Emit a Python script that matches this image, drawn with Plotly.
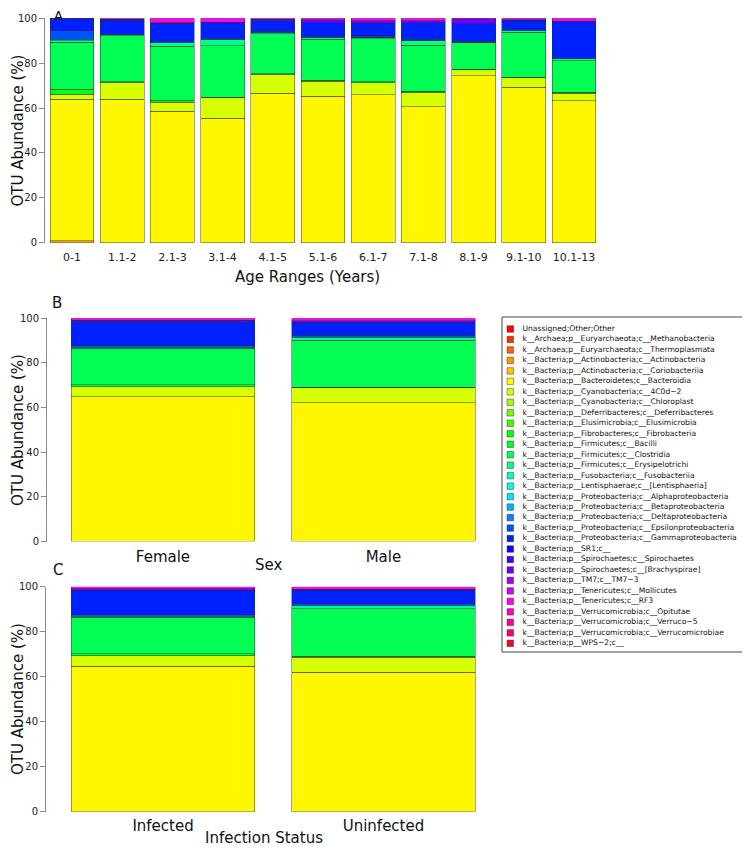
import colorsys
import plotly.graph_objects as go

W, H = 750, 866
OFF = 8  # the page body margin shifts the figure by this many pixels

# ---------------- data ----------------
TAXA = [
    "Unassigned;Other;Other",
    "k__Archaea;p__Euryarchaeota;c__Methanobacteria",
    "k__Archaea;p__Euryarchaeota;c__Thermoplasmata",
    "k__Bacteria;p__Actinobacteria;c__Actinobacteria",
    "k__Bacteria;p__Actinobacteria;c__Coriobacteriia",
    "k__Bacteria;p__Bacteroidetes;c__Bacteroidia",
    "k__Bacteria;p__Cyanobacteria;c__4C0d\u22122",
    "k__Bacteria;p__Cyanobacteria;c__Chloroplast",
    "k__Bacteria;p__Deferribacteres;c__Deferribacteres",
    "k__Bacteria;p__Elusimicrobia;c__Elusimicrobia",
    "k__Bacteria;p__Fibrobacteres;c__Fibrobacteria",
    "k__Bacteria;p__Firmicutes;c__Bacilli",
    "k__Bacteria;p__Firmicutes;c__Clostridia",
    "k__Bacteria;p__Firmicutes;c__Erysipelotrichi",
    "k__Bacteria;p__Fusobacteria;c__Fusobacteriia",
    "k__Bacteria;p__Lentisphaerae;c__[Lentisphaeria]",
    "k__Bacteria;p__Proteobacteria;c__Alphaproteobacteria",
    "k__Bacteria;p__Proteobacteria;c__Betaproteobacteria",
    "k__Bacteria;p__Proteobacteria;c__Deltaproteobacteria",
    "k__Bacteria;p__Proteobacteria;c__Epsilonproteobacteria",
    "k__Bacteria;p__Proteobacteria;c__Gammaproteobacteria",
    "k__Bacteria;p__SR1;c__",
    "k__Bacteria;p__Spirochaetes;c__Spirochaetes",
    "k__Bacteria;p__Spirochaetes;c__[Brachyspirae]",
    "k__Bacteria;p__TM7;c__TM7\u22123",
    "k__Bacteria;p__Tenericutes;c__Mollicutes",
    "k__Bacteria;p__Tenericutes;c__RF3",
    "k__Bacteria;p__Verrucomicrobia;c__Opitutae",
    "k__Bacteria;p__Verrucomicrobia;c__Verruco\u22125",
    "k__Bacteria;p__Verrucomicrobia;c__Verrucomicrobiae",
    "k__Bacteria;p__WPS\u22122;c__",
]

AGE_RANGES = ["0-1", "1.1-2", "2.1-3", "3.1-4", "4.1-5", "5.1-6",
              "6.1-7", "7.1-8", "8.1-9", "9.1-10", "10.1-13"]
SEX = ["Female", "Male"]
INFECTION = ["Infected", "Uninfected"]
Y_TICKS = [0, 20, 40, 60, 80, 100]

# Panel A: OTU abundance (%) per age range
age_actinobacteria = [0.8, 0, 0, 0, 0, 0, 0, 0, 0, 0, 0]
age_bacteroidia = [63.1, 63.9, 58.5, 55.4, 66.6, 65.2, 66.0, 60.6, 74.3, 69.2, 63.2]
age_4c0d2 = [2.2, 7.5, 4.0, 9.1, 8.4, 6.7, 5.3, 6.5, 2.7, 4.2, 3.3]
age_bacilli = [2.2, 0.3, 0.9, 0.3, 0.3, 0.4, 0.4, 0.5, 0.3, 0.3, 0.5]
age_clostridia = [21.0, 20.6, 24.2, 22.9, 17.8, 18.3, 19.1, 20.5, 11.7, 20.1, 14.0]
age_erysipelotrichi = [0.6, 0.3, 1.6, 2.8, 0.5, 0.8, 0.8, 2.2, 0.4, 0.6, 0.9]
age_alphaproteo = [0.7, 0, 0, 0, 0, 0, 0, 0, 0, 0, 0]
age_epsilonproteo = [3.9, 0.4, 0.4, 0.6, 0.6, 0.5, 0.5, 0.4, 0.3, 0.4, 0.3]
age_gammaproteo = [5.2, 6.2, 8.2, 7.0, 4.8, 6.2, 5.7, 7.3, 7.9, 4.4, 16.3]
age_brachyspirae = [0.3, 0.3, 0.3, 0.2, 0.6, 1.2, 1.1, 0.8, 2.1, 0.1, 0.1]
age_rf3 = [0, 0.5, 1.9, 1.7, 0.4, 0.7, 1.1, 1.2, 0.3, 0.7, 1.4]

# Panel B: by sex
sex_bacteroidia = [64.9, 62.2]
sex_4c0d2 = [4.4, 6.6]
sex_bacilli = [0.9, 0.4]
sex_clostridia = [16.3, 21.0]
sex_erysipelotrichi = [0.5, 1.4]
sex_epsilonproteo = [0.7, 0.8]
sex_gammaproteo = [10.8, 5.9]
sex_brachyspirae = [0.7, 0.5]
sex_rf3 = [0.8, 1.2]

# Panel C: by infection status
inf_bacteroidia = [64.6, 62.0]
inf_4c0d2 = [4.8, 6.7]
inf_bacilli = [0.9, 0.5]
inf_clostridia = [16.2, 21.0]
inf_erysipelotrichi = [0.4, 1.4]
inf_epsilonproteo = [0.6, 0.8]
inf_gammaproteo = [11.0, 6.0]
inf_brachyspirae = [0.6, 0.4]
inf_rf3 = [0.9, 1.2]

AGE_SERIES = [(3, age_actinobacteria), (5, age_bacteroidia), (6, age_4c0d2),
              (11, age_bacilli), (12, age_clostridia), (13, age_erysipelotrichi),
              (16, age_alphaproteo), (19, age_epsilonproteo), (20, age_gammaproteo),
              (23, age_brachyspirae), (26, age_rf3)]
SEX_SERIES = [(5, sex_bacteroidia), (6, sex_4c0d2), (11, sex_bacilli),
              (12, sex_clostridia), (13, sex_erysipelotrichi), (19, sex_epsilonproteo),
              (20, sex_gammaproteo), (23, sex_brachyspirae), (26, sex_rf3)]
INF_SERIES = [(5, inf_bacteroidia), (6, inf_4c0d2), (11, inf_bacilli),
              (12, inf_clostridia), (13, inf_erysipelotrichi), (19, inf_epsilonproteo),
              (20, inf_gammaproteo), (23, inf_brachyspirae), (26, inf_rf3)]

# ---------------- style ----------------
FONT = "DejaVu Sans"


def rainbow(n):
    out = []
    for i in range(n):
        r, g, b = colorsys.hsv_to_rgb(i / n, 1, 1)
        out.append("rgb(%d,%d,%d)" % (round(r * 255), round(g * 255), round(b * 255)))
    return out


COLORS = rainbow(len(TAXA))
EDGE = "rgba(40,40,40,0.55)"


def px_x(p):
    return (p - OFF) / W


def px_y(p):
    return 1 - (p - OFF) / H


fig = go.Figure()


def add_panel(series, cats, xa, ya, width):
    for idx, vals in series:
        fig.add_trace(go.Bar(
            x=cats, y=vals, name=TAXA[idx], width=width,
            marker=dict(color=COLORS[idx], line=dict(color=EDGE, width=0.8)),
            xaxis=xa, yaxis=ya, showlegend=False,
        ))


add_panel(AGE_SERIES, AGE_RANGES, "x", "y", 0.876)
add_panel(SEX_SERIES, SEX, "x2", "y2", 0.834)
add_panel(INF_SERIES, INFECTION, "x3", "y3", 0.834)

# legend drawn as its own small subplot
fig.add_trace(go.Scatter(
    x=[8.3] * len(TAXA), y=list(range(len(TAXA))), mode="markers",
    marker=dict(symbol="square", size=6.5, color=COLORS,
                line=dict(color="rgba(30,30,30,0.7)", width=0.6)),
    xaxis="x4", yaxis="y4", showlegend=False, hoverinfo="skip",
))
fig.add_trace(go.Scatter(
    x=[20.5] * len(TAXA), y=list(range(len(TAXA))), mode="text",
    text=TAXA, textposition="middle right",
    textfont=dict(family=FONT, size=7.6, color="#111"),
    xaxis="x4", yaxis="y4", showlegend=False, hoverinfo="skip", cliponaxis=False,
))

yaxis_common = dict(
    range=[0, 100], tickvals=Y_TICKS, showline=True, linecolor="#8a8a8a",
    linewidth=1, ticks="outside", ticklen=5, tickcolor="#8a8a8a",
    tickfont=dict(family=FONT, size=10, color="#222"), showgrid=False,
    zeroline=False, fixedrange=True, automargin=False,
)
xaxis_common = dict(
    type="category", showline=False, showgrid=False, zeroline=False,
    ticks="outside", tickcolor="rgba(0,0,0,0)", fixedrange=True, automargin=False,
)

fig.update_layout(
    width=W, height=H, margin=dict(l=0, r=0, t=0, b=0, pad=0, autoexpand=False),
    paper_bgcolor="white", plot_bgcolor="white", barmode="stack",
    font=dict(family=FONT, color="#111"),
    xaxis=dict(xaxis_common, domain=[px_x(45), px_x(600)], range=[-0.538, 10.518],
               ticklen=4, tickfont=dict(family=FONT, size=11, color="#222"), anchor="y"),
    yaxis=dict(yaxis_common, domain=[px_y(242.7), px_y(18.3)], anchor="x"),
    xaxis2=dict(xaxis_common, domain=[px_x(47), px_x(495)], range=[-0.526, 1.506],
                ticklen=1, tickfont=dict(family=FONT, size=15, color="#111"), anchor="y2"),
    yaxis2=dict(yaxis_common, domain=[px_y(541.5), px_y(318.3)], anchor="x2"),
    xaxis3=dict(xaxis_common, domain=[px_x(46), px_x(495)], range=[-0.531, 1.506],
                ticklen=0, tickfont=dict(family=FONT, size=15, color="#111"), anchor="y3"),
    yaxis3=dict(yaxis_common, domain=[px_y(811.7), px_y(586.7)], anchor="x3"),
    xaxis4=dict(domain=[px_x(502), px_x(746)], range=[0, 244], visible=False,
                fixedrange=True, anchor="y4", automargin=False),
    yaxis4=dict(domain=[px_y(652), px_y(317)], range=[30.83, -1.145], visible=False,
                fixedrange=True, anchor="x4", automargin=False),
)

fig.add_shape(type="rect", xref="paper", yref="paper",
              x0=px_x(502), x1=px_x(745.5), y0=px_y(652), y1=px_y(317),
              line=dict(color="#444", width=1), fillcolor="rgba(0,0,0,0)")


def label(text, x, y, size=15, angle=0, yanchor="middle"):
    fig.add_annotation(text=text, x=px_x(x), y=px_y(y), xref="paper", yref="paper",
                       showarrow=False, textangle=angle,
                       font=dict(family=FONT, size=size, color="#111"),
                       xanchor="center", yanchor=yanchor, borderpad=0)


label("A", 58, 6.5, size=13, yanchor="top")
label("B", 57, 303)
label("C", 58, 570)
label("Age Ranges (Years)", 307, 277)
label("Sex", 268, 565)
label("Infection Status", 264, 838)
for yc in (130.5, 430, 699):
    label("OTU Abundance (%)", 18, yc, angle=-90)

fig.write_html("out.html")
